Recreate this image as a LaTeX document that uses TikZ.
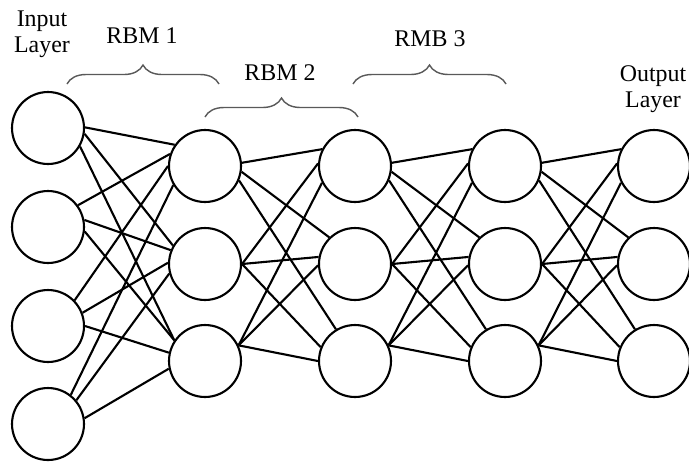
\documentclass[tikz,border=0pt]{standalone}
\usepackage{fontspec}
\setmainfont{Liberation Serif}
\usetikzlibrary{positioning,decorations.pathreplacing}

\begin{document}
\begin{tikzpicture}[x=0.02cm,y=-0.02cm,
    neuron/.style={draw,circle,line width=1.2pt,minimum size=1.44cm,inner sep=0pt},
    wire/.style={line width=1.2pt},
    lbl/.style={font=\fontsize{13.6}{14.8}\selectfont,align=center},
    brc/.style={draw=black!65,line width=0.8pt,decorate,decoration={brace,amplitude=0.38cm}}]
    \useasboundingbox (0,0) rectangle (689,461);
    % layers
    \foreach \j/\y in {1/128,2/227,3/326,4/424}
        \node[neuron] (i\j) at (48,\y) {};
    \foreach \L/\x in {a/205,b/355,c/505,o/654}
        \foreach \j/\y in {1/166,2/264,3/361}
            \node[neuron] (\L\j) at (\x,\y) {};
    % connections (source/target/out angle/in angle)
    \foreach \s/\t/\oa/\ia in {1/1/1/145, 1/2/-9/150, 1/3/-30/146,
                                2/1/36/161, 2/2/11/158, 2/3/-7/146,
                                3/1/44/180, 3/2/21/178, 3/3/0/167,
                                4/1/52/211, 4/2/40/195, 4/3/9/192}
        \draw[wire] (i\s.\oa) -- (a\t.\ia);
    \foreach \p/\q in {a/b,b/c,c/o}
        \foreach \s/\t/\oa/\ia in {1/1/5/153, 1/2/-9/134, 1/3/-23/121,
                                    2/1/0/176, 2/2/0/169, 2/3/0/158,
                                    3/1/25/207, 3/2/25/182, 3/3/25/180}
            \draw[wire] (\p\s.\oa) -- (\q\t.\ia);
    % labels
    \node[lbl] (inlbl) at (42,34) {Input\\Layer};
    \node[lbl] (outlbl) at (653,89) {Output\\Layer};
    \node[lbl,anchor=base] (rbm1) at (142,43) {RBM 1};
    \node[lbl,anchor=base] (rbm2) at (280,80) {RBM 2};
    \node[lbl,anchor=base] (rmb3) at (430,46) {RMB 3};
    % braces
    \draw[brc] (67,84) -- (219,84);
    \draw[brc] (205,117) -- (358,117);
    \draw[brc] (353,84) -- (506,84);
\end{tikzpicture}
\end{document}
